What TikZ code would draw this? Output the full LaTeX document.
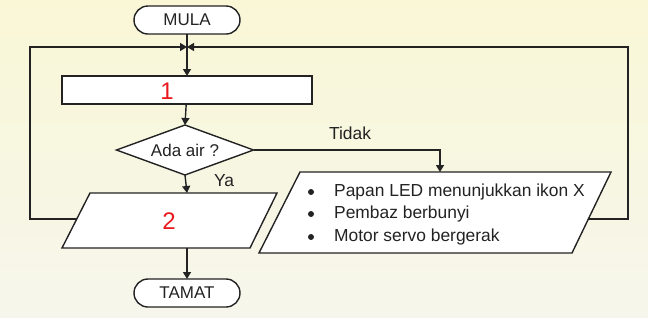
\documentclass[tikz,border=0pt]{standalone}
\usepackage{fontspec}
\setmainfont{Liberation Sans}
\usetikzlibrary{arrows.meta,shapes.geometric}
\definecolor{bgtop}{RGB}{249,247,214}
\definecolor{bgbot}{RGB}{246,246,236}
\definecolor{ink}{RGB}{35,35,35}
\definecolor{hand}{RGB}{235,25,30}
\begin{document}
\begin{tikzpicture}[x=1pt,y=-1pt,
  line/.style={line width=1.4pt, draw=ink},
  arr/.style={line, -{Triangle[length=7pt,width=8pt]}},
  term/.style={draw=ink, line width=1.4pt, fill=white, rounded corners=14pt,
    minimum width=106pt, minimum height=28pt, inner sep=0pt, outer sep=0pt,
    font=\fontsize{17}{20}\selectfont, text=ink},
  box/.style={draw=ink, line width=1.4pt, fill=white, inner sep=0pt, outer sep=0pt},
  lbl/.style={font=\fontsize{17.4}{20}\selectfont, text=ink, inner sep=0pt},
  handtxt/.style={font=\fontsize{24}{26}\selectfont, text=hand, inner sep=0pt},
  dot/.style={circle, fill=ink, inner sep=0pt, minimum size=6pt},
]
\fill[top color=bgtop, bottom color=bgbot] (0,0) rectangle (648,317);
\useasboundingbox (0,0) rectangle (648,317);

% terminals and process
\node[term] (mula) at (187,20) {MULA};
\node[box, minimum width=250pt, minimum height=28pt] (p1) at (187,90) {};
\node[handtxt] (n1) at (167,91) {1};

% decision
\node[box, diamond, aspect=2.74, minimum width=137pt, minimum height=50pt,
      font=\fontsize{17}{20}\selectfont, text=ink] (dia) at (185,150) {Ada air ?};

% parallelogram 2
\draw[line, fill=white] (90,193) coordinate (p2a) -- (277,193) coordinate (p2b)
   -- (250,248) coordinate (p2c) -- (62,248) coordinate (p2d) -- cycle;
\coordinate (p2top) at (187,193);
\coordinate (p2bot) at (187,248);
\coordinate (p2left) at (77,219);
\node[handtxt] (n2) at (169,221) {2};

% parallelogram 3
\draw[line, fill=white] (300,172) coordinate (p3a) -- (611,172) coordinate (p3b)
   -- (572,253) coordinate (p3c) -- (259,253) coordinate (p3d) -- cycle;
\coordinate (p3top) at (440,172);
\coordinate (p3right) at (588,219);

\node[dot] (b1) at (311,192) {};
\node[dot] (b2) at (311,214) {};
\node[dot] (b3) at (311,237) {};
\node[lbl, anchor=west] (t1) at (334,192) {Papan LED menunjukkan ikon X};
\node[lbl, anchor=west] (t2) at (334,214) {Pembaz berbunyi};
\node[lbl, anchor=west] (t3) at (334,237) {Motor servo bergerak};

% end terminal
\node[term] (tamat) at (187,293) {TAMAT};

% junction and corners
\coordinate (j) at (187,47);
\coordinate (ll) at (30,219);
\coordinate (lt) at (30,47);
\coordinate (rr) at (628,219);
\coordinate (rt) at (628,47);
\coordinate (tc) at (440,150);

% connectors
\draw[arr] (mula) -- (p1);
\draw[arr] (p1) -- (dia.north);
\draw[arr] (dia.south) -- (p2top);
\draw[arr] (dia.east) -- (tc) -- (p3top);
\draw[arr] (p2bot) -- (tamat);
\draw[arr] (p2left) -- (ll) -- (lt) -- (j);
\draw[arr] (p3right) -- (rr) -- (rt) -- (j);

% labels
\node[lbl] (tidak) at (350,133) {Tidak};
\node[lbl] (ya) at (224,181) {Ya};
\end{tikzpicture}
\end{document}
